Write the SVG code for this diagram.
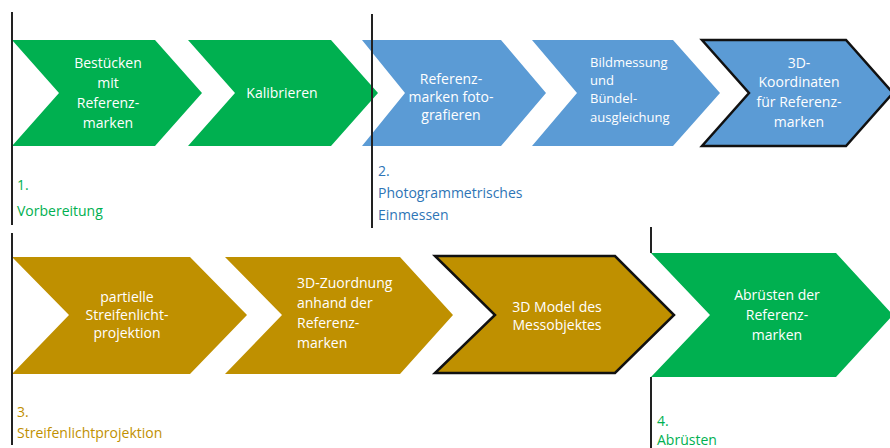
<svg xmlns="http://www.w3.org/2000/svg" width="890" height="448" viewBox="0 0 890 448">
<style>
.g{fill:#00b050}
.b{fill:#5b9bd5}
.o{fill:#bf9000}
.bd{stroke:#111;stroke-width:2.5;stroke-linejoin:miter}
.t{font-family:"Open Sans","Liberation Sans",sans-serif;font-size:14px;fill:#ffffff;text-anchor:middle}
.ts{font-family:"Open Sans","Liberation Sans",sans-serif;font-size:13px;fill:#ffffff}
.tl{font-family:"Open Sans","Liberation Sans",sans-serif;font-size:14px;fill:#ffffff}
.lab{font-family:"Open Sans","Liberation Sans",sans-serif;font-size:14px}
.sep{stroke:#222;stroke-width:2;fill:none}
</style>
<rect width="890" height="448" fill="#ffffff"/>

<g id="n1">
<polygon class="g" points="12,40 155,40 202,93 155,146 12,146 59,93"/>
<text class="t" x="108" y="68">Bestücken</text>
<text class="t" x="108" y="88">mit</text>
<text class="t" x="108" y="108">Referenz-</text>
<text class="t" x="108" y="128">marken</text>
</g>
<g id="n2">
<polygon class="g" points="188,40 331,40 378,93 331,146 188,146 235,93"/>
<text class="t" x="282" y="98">Kalibrieren</text>
</g>
<g id="n3">
<polygon class="b" points="362,40 501,40 546,93 501,146 362,146 405,93"/>
<text class="t" x="451" y="84">Referenz-</text>
<text class="t" x="451" y="102">marken foto-</text>
<text class="t" x="451" y="120">grafieren</text>
</g>
<g id="n4">
<polygon class="b" points="532,40 673,40 720,93 673,146 532,146 577,93"/>
<text class="ts" x="590" y="67">Bildmessung</text>
<text class="ts" x="590" y="85">und</text>
<text class="ts" x="590" y="103">Bündel-</text>
<text class="ts" x="590" y="122">ausgleichung</text>
</g>
<g id="n5">
<polygon class="b bd" points="702,40 846,40 893,93 846,146 702,146 749,93"/>
<text class="t" x="799" y="68">3D-</text>
<text class="t" x="799" y="87">Koordinaten</text>
<text class="t" x="799" y="107">für Referenz-</text>
<text class="t" x="799" y="127">marken</text>
</g>

<g id="n6">
<polygon class="o" points="12,257 190,257 247,315 190,374 12,374 69,315"/>
<text class="t" x="127" y="302">partielle</text>
<text class="t" x="127" y="320">Streifenlicht-</text>
<text class="t" x="127" y="338">projektion</text>
</g>
<g id="n7">
<polygon class="o" points="225,257 400,257 453,315 400,374 225,374 282,315"/>
<text class="tl" x="297" y="288">3D-Zuordnung</text>
<text class="tl" x="297" y="308">anhand der</text>
<text class="tl" x="297" y="328">Referenz-</text>
<text class="tl" x="297" y="348">marken</text>
</g>
<g id="n8">
<polygon class="o bd" points="435,256 615,256 674,315 615,373 435,373 495,315"/>
<text class="t" x="557" y="312">3D Model des</text>
<text class="t" x="557" y="330">Messobjektes</text>
</g>
<g id="n9">
<polygon class="g" points="651,253 836,253 893,315 836,377 651,377 710,315"/>
<text class="t" x="777" y="300">Abrüsten der</text>
<text class="t" x="777" y="320">Referenz-</text>
<text class="t" x="777" y="340">marken</text>
</g>

<g id="connectors">
<line class="sep" x1="12" y1="12" x2="12" y2="225"/>
<line class="sep" x1="372" y1="14" x2="372" y2="228"/>
<line class="sep" x1="12" y1="233" x2="12" y2="445"/>
<line class="sep" x1="651" y1="227" x2="651" y2="253"/>
<line class="sep" x1="651" y1="377" x2="651" y2="448"/>
</g>

<g id="labels">
<text class="lab" x="17" y="190" fill="#00b050">1.</text>
<text class="lab" x="17" y="216" fill="#00b050">Vorbereitung</text>
<text class="lab" x="378" y="176" fill="#2e75b6">2.</text>
<text class="lab" x="378" y="198" fill="#2e75b6">Photogrammetrisches</text>
<text class="lab" x="378" y="220" fill="#2e75b6">Einmessen</text>
<text class="lab" x="17" y="417" fill="#bf9000">3.</text>
<text class="lab" x="17" y="438" fill="#bf9000">Streifenlichtprojektion</text>
<text class="lab" x="657" y="426" fill="#00b050">4.</text>
<text class="lab" x="657" y="445" fill="#00b050">Abrüsten</text>
</g>
</svg>
